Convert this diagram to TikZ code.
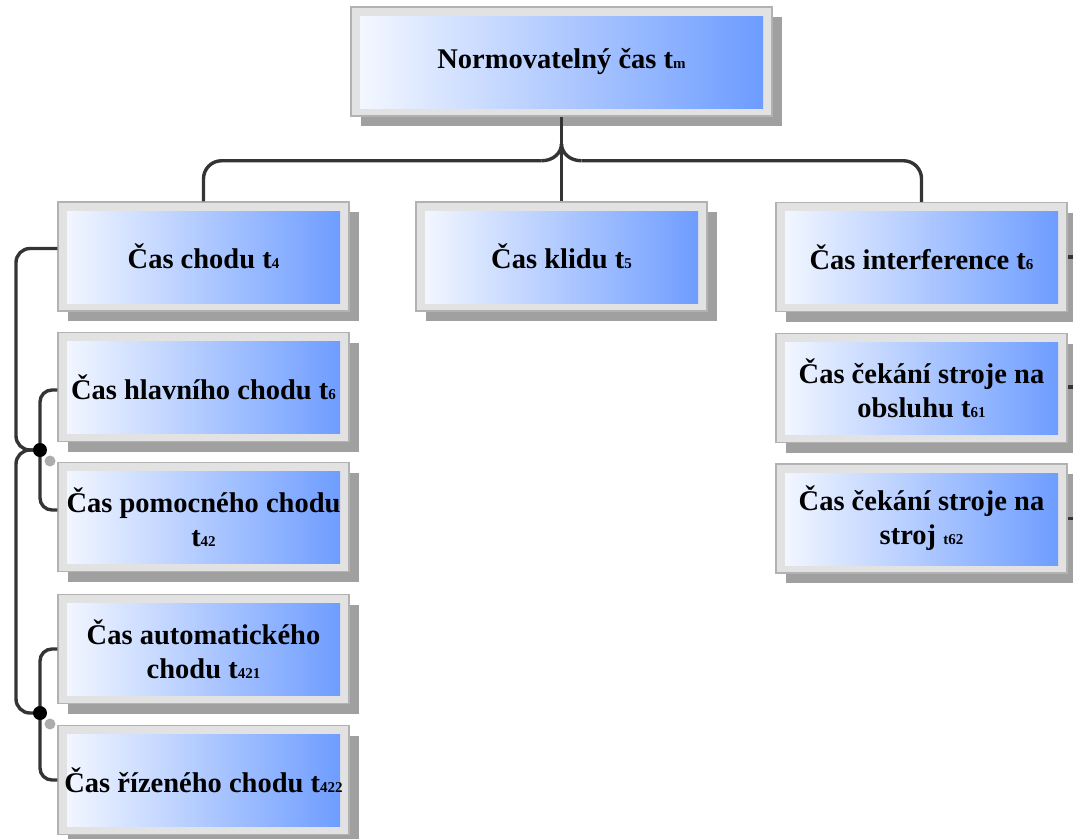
\documentclass[tikz,border=0pt]{standalone}
\usepackage{fontspec}
\setmainfont{Liberation Serif}
\usetikzlibrary{shadows,calc}
\definecolor{gradL}{RGB}{246,249,255}
\definecolor{gradR}{RGB}{106,154,255}
\definecolor{framefill}{RGB}{226,226,226}
\definecolor{frameline}{RGB}{178,178,178}
\definecolor{shadowgray}{RGB}{160,160,160}
\definecolor{conncol}{RGB}{52,52,52}
\newcommand\lowsub[1]{{\fontsize{15}{15}\selectfont #1}}
\begin{document}
\begin{tikzpicture}[x=1pt,y=-1pt,
 box/.style={draw=frameline, line width=1.5pt, fill=framefill,
   minimum width=291pt, minimum height=109pt, inner sep=0pt, align=center,
   font=\fontsize{28.5}{34}\selectfont\bfseries,
   drop shadow={shadow xshift=10pt, shadow yshift=-10pt, fill=shadowgray, opacity=1},
   path picture={\shade[left color=gradL, right color=gradR]
     ([shift={(9pt,-9pt)}]path picture bounding box.north west) rectangle
     ([shift={(-9pt,8pt)}]path picture bounding box.south east);}},
 conn/.style={draw=conncol, line width=3.4pt},
 jdot/.style={fill=black, draw=none},
 jshadow/.style={fill=gray!65, draw=none},
]
\useasboundingbox (0,0) rectangle (1073,838);

\node[box, minimum width=421pt] (top) at (561.5,61.5) {Normovatelný čas t\lowsub{m}};
\node[box] (chodu) at (203.5,256.5) {Čas chodu t\lowsub{4}};
\node[box] (klidu) at (561.5,256.5) {Čas klidu t\lowsub{5}};
\node[box] (interf) at (921.5,257) {Čas interference t\lowsub{6}};
\node[box] (hlavni) at (203.5,387) {Čas hlavního chodu t\lowsub{6}};
\node[box] (pomoc) at (203.5,517) {Čas pomocného chodu\\t\lowsub{42}};
\node[box] (auto) at (203.5,649) {Čas automatického\\chodu t\lowsub{421}};
\node[box] (rizeny) at (203.5,780) {Čas řízeného chodu t\lowsub{422}};
\node[box] (obsluha) at (921.5,388) {Čas čekání stroje na\\obsluhu t\lowsub{61}};
\node[box] (stroj) at (921.5,518.5) {Čas čekání stroje na\\stroj \lowsub{t62}};

% top tree
\coordinate (hub) at ($(top.south)+(0,27)$);
\draw[conn] (top.south) -- (klidu.north);
\draw[conn, rounded corners=18pt] (chodu.north) |- ($(hub)+(-20,17)$);
\draw[conn] ($(hub)+(-20,17)$) .. controls ($(hub)+(-8,17)$) and ($(hub)+(0,9)$) .. (hub);
\draw[conn, rounded corners=18pt] (interf.north) |- ($(hub)+(20,17)$);
\draw[conn] ($(hub)+(20,17)$) .. controls ($(hub)+(8,17)$) and ($(hub)+(0,9)$) .. (hub);

% left column
\coordinate (J1) at (40,450);
\coordinate (J2) at (40,713);
\draw[conn, rounded corners=14pt] ($(chodu.west)+(0,-8)$) -| ($(J1)+(-24,0)$) -- (J1);
\draw[conn, rounded corners=12pt] ($(hlavni.west)+(0,3)$) -| (J1);
\draw[conn, rounded corners=12pt] (J1) |- ($(pomoc.west)+(0,-7)$);
\draw[conn, rounded corners=14pt] (J1) -- ($(J1)+(-24,0)$) -- ($(J2)+(-24,0)$) -- (J2);
\draw[conn, rounded corners=12pt] (auto.west) -| (J2);
\draw[conn, rounded corners=12pt] (J2) |- (rizeny.west);
\fill[jshadow] ($(J1)+(10,11)$) circle (5.5pt);
\fill[jdot] (J1) circle (7pt);
\fill[jshadow] ($(J2)+(10,11)$) circle (5.5pt);
\fill[jdot] (J2) circle (7pt);

% right stubs
\draw[conn] (interf.east) -- ++(12,0);
\draw[conn] ($(obsluha.east)+(0,-1)$) -- ++(12,0);
\draw[conn] (stroj.east) -- ++(12,0);
\end{tikzpicture}
\end{document}
